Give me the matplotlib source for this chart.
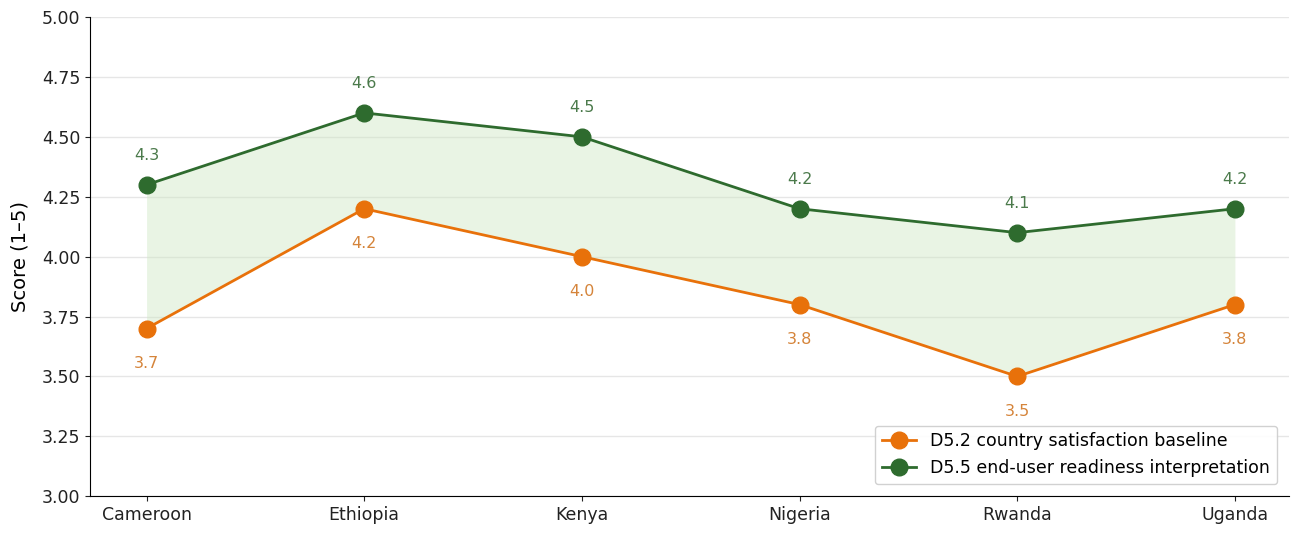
import matplotlib.pyplot as plt

# country scores, D5.2 baseline vs D5.5 readiness
countries = ["Cameroon", "Ethiopia", "Kenya", "Nigeria", "Rwanda", "Uganda"]
baseline = [3.7, 4.2, 4.0, 3.8, 3.5, 3.8]
readiness = [4.3, 4.6, 4.5, 4.2, 4.1, 4.2]
yticks = [3.00, 3.25, 3.50, 3.75, 4.00, 4.25, 4.50, 4.75, 5.00]

ORANGE = "#e8710a"
GREEN = "#2e6b2e"


def main():
    fig = plt.figure(figsize=(12.91, 5.33), dpi=100)
    ax = fig.add_axes([0.0697, 0.069, 0.929, 0.899])

    x = list(range(len(countries)))

    # shaded gap between the two series
    ax.fill_between(x, baseline, readiness, color="#cfe8c4", alpha=0.45, linewidth=0)

    ax.plot(x, baseline, "-o", color=ORANGE, lw=2, markersize=12,
            label="D5.2 country satisfaction baseline", zorder=3)
    ax.plot(x, readiness, "-o", color=GREEN, lw=2, markersize=12,
            label="D5.5 end-user readiness interpretation", zorder=3)

    # value labels
    for xi, v in zip(x, baseline):
        ax.annotate(f"{v:.1f}", (xi, v), xytext=(0, -25), textcoords="offset points",
                    ha="center", va="center", fontsize=11.5, color="#d5843a")
    for xi, v in zip(x, readiness):
        ax.annotate(f"{v:.1f}", (xi, v), xytext=(0, 21), textcoords="offset points",
                    ha="center", va="center", fontsize=11.5, color="#4b7a4b")

    ax.set_xlim(-0.26, 5.25)
    ax.set_ylim(3.0, 5.0)
    ax.set_xticks(x)
    ax.set_xticklabels(countries)
    ax.set_yticks(yticks)
    ax.set_yticklabels([f"{t:.2f}" for t in yticks])
    ax.tick_params(labelsize=12.5, colors="#222222")
    ax.set_ylabel("Score (1–5)", fontsize=14, labelpad=9)

    ax.grid(axis="y", color="#e6e6e6", lw=1)
    ax.set_axisbelow(True)
    ax.spines["top"].set_visible(False)
    ax.spines["right"].set_visible(False)

    ax.legend(loc="lower right", fontsize=12.5, framealpha=0.9, borderaxespad=0.7)

    fig.savefig("out.png", dpi=100)


if __name__ == "__main__":
    main()
